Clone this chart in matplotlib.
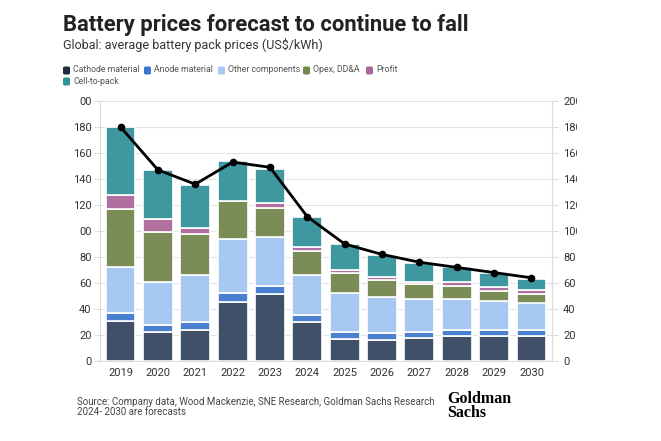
import matplotlib

matplotlib.use("Agg")
import matplotlib.pyplot as plt
import numpy as np
from matplotlib.patches import FancyBboxPatch, Rectangle

years = ["2019", "2020", "2021", "2022", "2023", "2024",
         "2025", "2026", "2027", "2028", "2029", "2030"]
cathode = [31, 22, 24, 45.5, 51.5, 30, 17, 16, 17.5, 19, 19, 19]
anode = [6, 6, 6, 6.5, 6, 5.5, 5.5, 5.5, 5, 4.5, 4.5, 5]
other = [35, 33, 36, 42, 38, 31, 29.5, 28, 25.5, 24.5, 23, 21]
opex = [45, 38, 32, 29, 22.5, 18, 16, 13, 11, 9.5, 7.5, 6.5]
profit = [11, 10, 4.5, 0, 3.5, 3, 2, 2.5, 2, 3, 3, 3]
cell_to_pack = [52, 38, 33, 31, 26.5, 23, 20, 16.5, 14.5, 11.5, 11, 8.5]
total_price = [180, 147, 136, 153, 149, 111, 90, 82, 76, 72, 68, 64]

components = ["Cathode material", "Anode material", "Other components",
              "Opex, DD&A", "Profit", "Cell-to-pack"]
colors = ["#3f5068", "#4b80d0", "#a7c9f1", "#7b8d56", "#b0709f", "#3f979f"]
legend_colors = ["#1f2d3d", "#3a75cc", "#a7c9f1", "#6f8a4c", "#a9679a", "#2f9398"]

left_labels = ["0", "20", "40", "60", "80", "00", "120", "140", "160", "180", "00"]
right_labels = ["0", "20", "40", "60", "80", "100", "120", "140", "160", "180", "200"]

FONT = "Roboto"
TXT = "#333333"

fig = plt.figure(figsize=(6.61, 4.41), dpi=100)
ax = fig.add_axes([100 / 661, 1 - 361 / 441, 452 / 661, 260 / 441])

x = np.arange(len(years))
bottom = np.zeros(len(years))
for vals, col in zip([cathode, anode, other, opex, profit, cell_to_pack], colors):
    ax.bar(x, vals, bottom=bottom, width=0.8, color=col, edgecolor="white",
           linewidth=1.2, zorder=2)
    bottom += np.array(vals)

ax.set_xlim(-0.55, len(years) - 0.45)
ax.set_ylim(0, 200)
ticks = np.arange(0, 201, 20)
ax.set_yticks(ticks)
ax.set_yticklabels(left_labels)
ax.set_xticks(x)
ax.set_xticklabels(years)
ax.grid(axis="y", color="#e3e3e3", linewidth=0.8, zorder=0)
ax.set_axisbelow(True)
ax.spines["top"].set_visible(False)
for side in ["left", "right", "bottom"]:
    ax.spines[side].set_color("#dcdcdc")
    ax.spines[side].set_linewidth(0.8)
ax.tick_params(axis="y", length=4, color="#dcdcdc", pad=2, labelsize=8, labelcolor=TXT)
ax.tick_params(axis="x", length=0, pad=5, labelsize=8, labelcolor=TXT)
for lab in ax.get_xticklabels() + ax.get_yticklabels():
    lab.set_fontfamily(FONT)

ax2 = ax.twinx()
ax2.set_ylim(0, 200)
ax2.set_yticks(ticks)
ax2.set_yticklabels(right_labels)
ax2.plot(x, total_price, color="black", linewidth=2, marker="o", markersize=4.5, zorder=5)
for side in ["top", "left", "bottom"]:
    ax2.spines[side].set_visible(False)
ax2.spines["right"].set_color("#dcdcdc")
ax2.spines["right"].set_linewidth(0.8)
ax2.tick_params(axis="y", length=4, color="#dcdcdc", pad=4, labelsize=8, labelcolor=TXT)
for lab in ax2.get_yticklabels():
    lab.set_fontfamily(FONT)

# the original image is cropped on the right edge
fig.patches.append(Rectangle((577 / 661, 0), 1, 1, transform=fig.transFigure,
                             facecolor="white", edgecolor="none", zorder=10))

fig.text(63 / 661, 1 - 25 / 441, "Battery prices forecast to continue to fall",
         fontsize=15.8, fontweight="bold", family=FONT, color="#222222", va="center")
fig.text(63 / 661, 1 - 45 / 441, "Global: average battery pack prices (US$/kWh)",
         fontsize=9.0, family=FONT, color="#333333", va="center")

legend_pos = [(63, 70), (144, 70), (218, 70), (303, 70), (366, 70), (63, 81)]
for name, col, (px, py) in zip(components, legend_colors, legend_pos):
    fig.patches.append(FancyBboxPatch((px / 661, 1 - (py + 4.5) / 441), 7 / 661, 8 / 441,
                                      boxstyle="round,pad=0,rounding_size=0.003",
                                      transform=fig.transFigure, facecolor=col,
                                      edgecolor="none"))
    fig.text((px + 10) / 661, 1 - py / 441, name, fontsize=6.3, family=FONT,
             color="#555555", va="center")

fig.text(77 / 661, 1 - 407 / 441,
         "Source: Company data, Wood Mackenzie, SNE Research, Goldman Sachs Research\n"
         "2024- 2030 are forecasts",
         fontsize=7.0, family=FONT, color="#444444", va="center", linespacing=1.0)
fig.text(447 / 661, 1 - 406 / 441, "Goldman\nSachs", fontsize=11.5, fontweight="bold",
         family="Liberation Serif", color="black", va="center", linespacing=0.9)

fig.savefig("out.png", dpi=100, facecolor="white")
